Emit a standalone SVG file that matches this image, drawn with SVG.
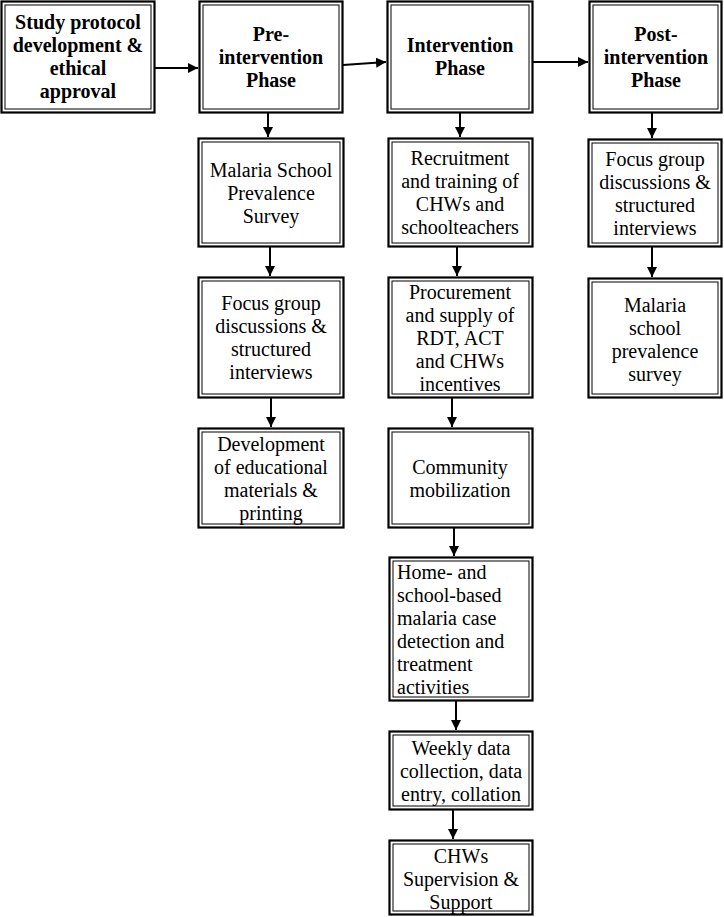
<svg xmlns="http://www.w3.org/2000/svg" width="724" height="917" viewBox="0 0 724 917">
<defs>
<style>
.o{fill:#fff;stroke:#000;stroke-width:2.2}
.i{fill:none;stroke:#000;stroke-width:1}
text{font-family:"Liberation Serif","Times New Roman",serif;font-size:20px;fill:#000;text-anchor:middle}
.b{font-weight:bold}
.l{text-anchor:start}
.c{stroke:#000;stroke-width:2;fill:none;marker-end:url(#ah)}
</style>
<marker id="ah" viewBox="0 0 10 10" refX="10" refY="5" markerWidth="5" markerHeight="5" orient="auto" markerUnits="strokeWidth">
<path d="M0,0 L10,5 L0,10 z" fill="#000"/>
</marker>
</defs>
<rect width="724" height="917" fill="#fff"/>
<g id="connectors">
<line class="c" x1="155" y1="68" x2="198" y2="68"/>
<line class="c" x1="343" y1="65" x2="386" y2="62"/>
<line class="c" x1="533" y1="62" x2="588" y2="62"/>
<line class="c" x1="268" y1="113" x2="268" y2="137"/>
<line class="c" x1="270" y1="247" x2="270" y2="276"/>
<line class="c" x1="271" y1="398" x2="271" y2="427"/>
<line class="c" x1="460" y1="113" x2="460" y2="137"/>
<line class="c" x1="457" y1="247" x2="457" y2="276"/>
<line class="c" x1="452" y1="398" x2="452" y2="427"/>
<line class="c" x1="454" y1="528" x2="454" y2="556"/>
<line class="c" x1="456" y1="701" x2="456" y2="730"/>
<line class="c" x1="453" y1="810" x2="453" y2="839"/>
<line class="c" x1="652" y1="113" x2="652" y2="138"/>
<line class="c" x1="652" y1="247" x2="652" y2="277"/>
</g>
<g id="study">
<rect class="o" x="1.5" y="1.5" width="153" height="111"/>
<rect class="i" x="5" y="5" width="146" height="104"/>
<text class="b" x="78" y="29">Study protocol</text>
<text class="b" x="78" y="52">development &amp;</text>
<text class="b" x="78" y="75">ethical</text>
<text class="b" x="78" y="98">approval</text>
</g>
<g id="pre">
<rect class="o" x="199.5" y="1.5" width="143" height="111"/>
<rect class="i" x="203" y="5" width="136" height="104"/>
<text class="b" x="271" y="41">Pre-</text>
<text class="b" x="271" y="64">intervention</text>
<text class="b" x="271" y="87">Phase</text>
</g>
<g id="int">
<rect class="o" x="387.5" y="1.5" width="145" height="111"/>
<rect class="i" x="391" y="5" width="138" height="104"/>
<text class="b" x="460" y="52">Intervention</text>
<text class="b" x="460" y="75">Phase</text>
</g>
<g id="post">
<rect class="o" x="589.5" y="1.5" width="132" height="111"/>
<rect class="i" x="593" y="5" width="125" height="104"/>
<text class="b" x="656" y="41">Post-</text>
<text class="b" x="656" y="64">intervention</text>
<text class="b" x="656" y="87">Phase</text>
</g>
<g id="pre1">
<rect class="o" x="198.5" y="138.5" width="145" height="108"/>
<rect class="i" x="202" y="142" width="138" height="101"/>
<text x="271" y="176.5">Malaria School</text>
<text x="271" y="199.5">Prevalence</text>
<text x="271" y="222.5">Survey</text>
</g>
<g id="pre2">
<rect class="o" x="198.5" y="277.5" width="145" height="120"/>
<rect class="i" x="202" y="281" width="138" height="113"/>
<text x="271" y="310">Focus group</text>
<text x="271" y="333">discussions &amp;</text>
<text x="271" y="356">structured</text>
<text x="271" y="379">interviews</text>
</g>
<g id="pre3">
<rect class="o" x="198.5" y="428.5" width="145" height="99"/>
<rect class="i" x="202" y="432" width="138" height="92"/>
<text x="271" y="450.5">Development</text>
<text x="271" y="473.5">of educational</text>
<text x="271" y="496.5">materials &amp;</text>
<text x="271" y="519.5">printing</text>
</g>
<g id="int1">
<rect class="o" x="388.5" y="138.5" width="144" height="108"/>
<rect class="i" x="392" y="142" width="137" height="101"/>
<text x="460" y="165">Recruitment</text>
<text x="460" y="188">and training of</text>
<text x="460" y="211">CHWs and</text>
<text x="460" y="234">schoolteachers</text>
</g>
<g id="int2">
<rect class="o" x="388.5" y="277.5" width="144" height="120"/>
<rect class="i" x="392" y="281" width="137" height="113"/>
<text x="460" y="298.5">Procurement</text>
<text x="460" y="321.5">and supply of</text>
<text x="460" y="344.5">RDT, ACT</text>
<text x="460" y="367.5">and CHWs</text>
<text x="460" y="390.5">incentives</text>
</g>
<g id="int3">
<rect class="o" x="388.5" y="428.5" width="144" height="99"/>
<rect class="i" x="392" y="432" width="137" height="92"/>
<text x="460" y="473.5">Community</text>
<text x="460" y="496.5">mobilization</text>
</g>
<g id="int4">
<rect class="o" x="389.5" y="557.5" width="143" height="143"/>
<rect class="i" x="393" y="561" width="136" height="136"/>
<text class="l" x="397" y="578.5">Home- and</text>
<text class="l" x="397" y="601.5">school-based</text>
<text class="l" x="397" y="624.5">malaria case</text>
<text class="l" x="397" y="647.5">detection and</text>
<text class="l" x="397" y="670.5">treatment</text>
<text class="l" x="397" y="693.5">activities</text>
</g>
<g id="int5">
<rect class="o" x="389.5" y="731.5" width="143" height="78"/>
<rect class="i" x="393" y="735" width="136" height="71"/>
<text x="461" y="754.5">Weekly data</text>
<text x="461" y="777.5">collection, data</text>
<text x="461" y="800.5">entry, collation</text>
</g>
<g id="int6">
<rect class="o" x="389.5" y="840.5" width="143" height="74"/>
<rect class="i" x="393" y="844" width="136" height="67"/>
<text x="461" y="863">CHWs</text>
<text x="461" y="886">Supervision &amp;</text>
<text x="461" y="909">Support</text>
</g>
<g id="post1">
<rect class="o" x="588.5" y="139.5" width="133" height="107"/>
<rect class="i" x="592" y="143" width="126" height="100"/>
<text x="655" y="165.5">Focus group</text>
<text x="655" y="188.5">discussions &amp;</text>
<text x="655" y="211.5">structured</text>
<text x="655" y="234.5">interviews</text>
</g>
<g id="post2">
<rect class="o" x="588.5" y="278.5" width="133" height="119"/>
<rect class="i" x="592" y="282" width="126" height="112"/>
<text x="655" y="312">Malaria</text>
<text x="655" y="335">school</text>
<text x="655" y="358">prevalence</text>
<text x="655" y="381">survey</text>
</g>
</svg>
